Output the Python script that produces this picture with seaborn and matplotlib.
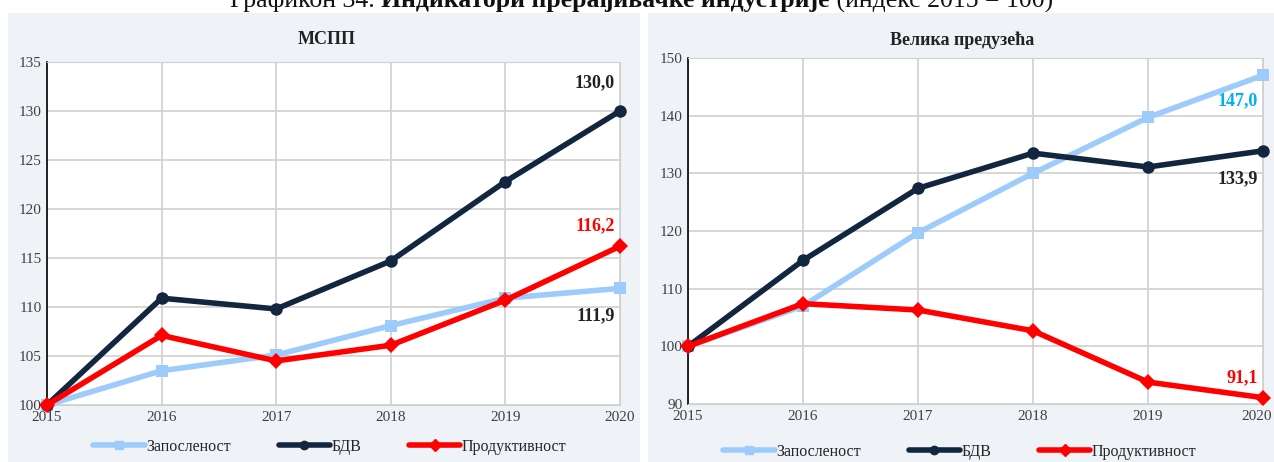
import pandas as pd
import seaborn as sns
import matplotlib.pyplot as plt
from matplotlib.patches import Rectangle
from matplotlib.lines import Line2D

years = [2015, 2016, 2017, 2018, 2019, 2020]

# МСПП
mspp_emp = [100.0, 103.5, 105.1, 108.1, 110.9, 111.9]
mspp_gva = [100.0, 110.9, 109.8, 114.7, 122.8, 130.0]
mspp_prod = [100.0, 107.1, 104.5, 106.1, 110.7, 116.2]

# Велика предузећа
big_emp = [100.0, 107.0, 119.7, 130.0, 139.7, 147.0]
big_gva = [100.0, 114.9, 127.4, 133.5, 131.1, 133.9]
big_prod = [100.0, 107.4, 106.3, 102.7, 93.8, 91.1]

series_names = ['Запосленост', 'БДВ', 'Продуктивност']
colors = {'Запосленост': '#9DCBFB', 'БДВ': '#13263F', 'Продуктивност': '#FF0000'}
markers = {'Запосленост': 's', 'БДВ': 'o', 'Продуктивност': 'D'}
msizes = {'Запосленост': 9, 'БДВ': 9, 'Продуктивност': 8}

title_parts = ['Графикон 34. ', 'Индикатори прерађивачке индустрије', ' (индекс 2015 = 100)']


def make_df(emp, gva, prod):
    rows = []
    for name, vals in zip(series_names, [emp, gva, prod]):
        for y, v in zip(years, vals):
            rows.append({'year': y, 'value': v, 'series': name})
    return pd.DataFrame(rows)


sns.set_style('white')
plt.rcParams['font.family'] = ['Liberation Serif', 'DejaVu Serif']

fig = plt.figure(figsize=(12.74, 4.62), dpi=100)
W, H = 1274, 462
bg = '#EFF3F8'
fig.add_artist(Rectangle((8 / W, 0), 632 / W, (H - 13) / H, transform=fig.transFigure,
                         facecolor=bg, edgecolor='none', zorder=0))
fig.add_artist(Rectangle((648 / W, 0), 626 / W, (H - 13) / H, transform=fig.transFigure,
                         facecolor=bg, edgecolor='none', zorder=0))

# title made of three pieces, laid out side by side (top is cut off like the source)
renderer = fig.canvas.get_renderer()
x = 230 / W
for i, part in enumerate(title_parts):
    t = fig.text(x, 1 - 1 / H, part, ha='left', va='center', fontsize=18.5,
                 fontweight='bold' if i == 1 else 'normal', color='#111111')
    bb = t.get_window_extent(renderer=renderer)
    x += bb.width / W


def draw_panel(rect, df, ylim, yticks, title, title_x, labels, leg_x, leg_y, pull_last=False):
    ax = fig.add_axes(rect)
    ax.set_facecolor('white')
    for name in series_names:
        sub = df[df['series'] == name]
        sns.lineplot(data=sub, x='year', y='value', ax=ax, color=colors[name], lw=4,
                     marker=markers[name], markersize=msizes[name], markeredgewidth=0,
                     clip_on=False, zorder=3, legend=False)
    ax.set_xlim(2015, 2020)
    ax.set_ylim(*ylim)
    ax.set_xticks(years)
    ax.set_yticks(yticks)
    xlabels = [str(y) for y in years]
    if pull_last:
        # last year label sits just inside the panel edge
        ax.annotate(xlabels[-1], (years[-1], ylim[0]), xytext=(6.5, -4),
                    textcoords='offset points', ha='right', va='top', fontsize=11,
                    color='#404040')
        xlabels[-1] = ''
    ax.set_xticklabels(xlabels, fontsize=11, color='#404040')
    ax.set_yticklabels([str(t) for t in yticks], fontsize=11, color='#404040')
    ax.tick_params(axis='both', length=0, pad=4)
    ax.grid(True, color='#D0D0D0', lw=1.2)
    ax.set_axisbelow(True)
    ax.set_xlabel('')
    ax.set_ylabel('')
    for s in ['top', 'right', 'bottom']:
        ax.spines[s].set_color('#D0D0D0')
    ax.spines['left'].set_color('black')
    ax.spines['left'].set_linewidth(1.2)
    fig.text(title_x, 1 - 40 / H, title, ha='center', va='center', fontsize=13,
             fontweight='bold', color='#222222')
    for (val, col, dy) in labels:
        ax.annotate(f'{val:.1f}'.replace('.', ','), (2020, val), xytext=(-4, dy),
                    textcoords='offset points', ha='right', va='center', fontsize=13,
                    fontweight='bold', color=col)
    handles = [Line2D([0], [0], color=colors[n], lw=4, marker=markers[n], markersize=6)
               for n in series_names]
    fig.legend(handles, series_names, loc='center', bbox_to_anchor=(leg_x, leg_y),
               ncol=3, frameon=False, fontsize=11.5, handlelength=3.2, handletextpad=0.1,
               columnspacing=3.0)
    return ax


draw_panel([47 / W, 57 / H, 573 / W, 343 / H], make_df(mspp_emp, mspp_gva, mspp_prod),
           (100, 135), list(range(100, 136, 5)), 'МСПП', 327 / W,
           [(130.0, '#222222', 20), (116.2, '#FF0000', 15), (111.9, '#222222', -20)],
           330 / W, 1 - 447 / H)
draw_panel([688 / W, 58 / H, 575 / W, 346 / H], make_df(big_emp, big_gva, big_prod),
           (90, 150), list(range(90, 151, 10)), 'Велика предузећа', 962 / W,
           [(147.0, '#00B0F0', -18), (133.9, '#222222', -20), (91.1, '#FF0000', 14)],
           960 / W, 1 - 452 / H, pull_last=True)

fig.savefig('out.png', dpi=100)
